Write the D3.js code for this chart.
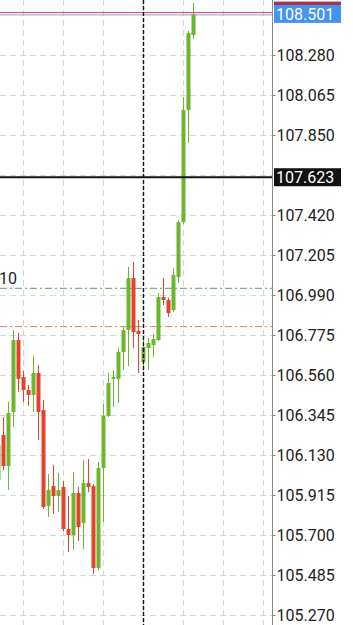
<!DOCTYPE html>
<html>
<head>
<meta charset="utf-8">
<script src="https://cdn.jsdelivr.net/npm/d3@7"></script>
<style>
  body { margin: 0; background: #fff; }
  svg { display: block; font-family: Roboto, "Noto Sans", sans-serif; }
</style>
</head>
<body>
<div id="chart"></div>
<script>
// chart size
var svgWidth = 353;
var svgHeight = 625;
var axisX = 272;

// candle data (index -1 is the partly hidden first bar)
var bars = d3.range(-1, 39);
var opens  = [105.996, 106.238, 106.071, 106.361, 106.748, 106.549, 106.479, 106.453, 106.571, 106.372,
              105.856, 105.963, 105.910, 105.958, 105.732, 105.700, 105.926, 105.764, 105.979, 105.963,
              105.523, 106.060, 106.340, 106.539, 106.539, 106.684, 106.802, 107.081, 106.797, 106.630,
              106.705, 106.721, 106.748, 106.979, 106.963, 106.909, 107.087, 107.382, 107.984, 108.388];
var highs  = [106.264, 106.334, 106.415, 106.802, 106.786, 106.582, 106.506, 106.662, 106.614, 106.426,
              106.028, 106.076, 106.033, 105.990, 105.910, 106.039, 105.958, 106.103, 106.109, 105.974,
              106.092, 106.404, 106.571, 106.587, 106.705, 106.818, 107.141, 107.167, 106.856, 106.759,
              106.759, 106.780, 107.001, 107.081, 106.974, 107.135, 107.393, 108.054, 108.409, 108.560];
var lows   = [105.931, 106.049, 105.942, 106.281, 106.469, 106.415, 106.393, 106.361, 106.211, 105.840,
              105.797, 105.813, 105.824, 105.721, 105.609, 105.619, 105.668, 105.625, 105.931, 105.490,
              105.512, 105.770, 106.334, 106.388, 106.410, 106.587, 106.608, 106.705, 106.571, 106.598,
              106.587, 106.657, 106.743, 106.936, 106.872, 106.899, 107.055, 107.372, 107.807, 108.366];
var closes = [106.184, 106.071, 106.356, 106.748, 106.539, 106.479, 106.453, 106.571, 106.361, 105.850,
              105.942, 105.910, 105.942, 105.732, 105.700, 105.926, 105.743, 105.979, 105.958, 105.523,
              106.060, 106.340, 106.517, 106.549, 106.684, 106.802, 107.081, 106.791, 106.780, 106.711,
              106.732, 106.754, 106.979, 106.963, 106.893, 107.098, 107.382, 107.984, 108.398, 108.501];

// price grid levels (107.635 sits under the 107.623 tag)
var priceTicks = [108.280, 108.065, 107.850, 107.635, 107.420, 107.205, 106.990, 106.775,
                  106.560, 106.345, 106.130, 105.915, 105.700, 105.485, 105.270];
// time grid every 8 bars
var timeGrid = [4, 12, 20, 28, 36, 44, 52];
var crossBar = 28;

// price lines
var bidPrice = 108.501;
var askPrice = 108.508;
var markPrice = 107.623;
var greenLevel = 107.026;
var orangeLevel = 106.820;

var candles = bars.map(function(b, i) {
  return { i: b, o: opens[i], h: highs[i], l: lows[i], c: closes[i] };
});

var svg = d3.select("#chart")
  .append("svg")
  .attr("width", svgWidth)
  .attr("height", svgHeight);

// scales
var xScale = d3.scaleLinear()
  .domain([-1, 38])
  .range([-1.7, 193.3]);

var yScale = d3.scaleLinear()
  .domain([105.270, 108.280])
  .range([615, 55]);

var plot = svg.append("g");

// dashed grid
plot.selectAll(".hgrid")
  .data(priceTicks)
  .enter()
  .append("line")
  .attr("x1", 0)
  .attr("x2", axisX)
  .attr("y1", d => Math.round(yScale(d)) + 0.5)
  .attr("y2", d => Math.round(yScale(d)) + 0.5)
  .attr("stroke", "#d6d6d6")
  .attr("stroke-dasharray", "6,4");

plot.selectAll(".vgrid")
  .data(timeGrid)
  .enter()
  .append("line")
  .attr("x1", d => Math.round(xScale(d)) + 0.5)
  .attr("x2", d => Math.round(xScale(d)) + 0.5)
  .attr("y1", 0)
  .attr("y2", svgHeight)
  .attr("stroke", "#d6d6d6")
  .attr("stroke-dasharray", "6,4");

// level lines
plot.append("line")
  .attr("x1", 0).attr("x2", axisX)
  .attr("y1", yScale(greenLevel)).attr("y2", yScale(greenLevel))
  .attr("stroke", "#5a9e5a")
  .attr("stroke-dasharray", "7,3,2,3");

plot.append("line")
  .attr("x1", 0).attr("x2", axisX)
  .attr("y1", yScale(orangeLevel)).attr("y2", yScale(orangeLevel))
  .attr("stroke", "#cf8a5a")
  .attr("stroke-dasharray", "7,3,2,3");

plot.append("text")
  .attr("x", -1)
  .attr("y", yScale(greenLevel) - 10)
  .attr("dy", "0.35em")
  .style("font-size", "16px")
  .style("fill", "#222")
  .text("10");

// candles
var green = "#6cb52d";
var red = "#e2442b";

plot.selectAll(".wick")
  .data(candles)
  .enter()
  .append("line")
  .attr("x1", d => Math.round(xScale(d.i)) + 0.5)
  .attr("x2", d => Math.round(xScale(d.i)) + 0.5)
  .attr("y1", d => yScale(d.h))
  .attr("y2", d => yScale(d.l))
  .attr("stroke", d => d.c >= d.o ? green : red)
  .attr("stroke-width", 1);

plot.selectAll(".body")
  .data(candles)
  .enter()
  .append("rect")
  .attr("x", d => Math.round(xScale(d.i)) - 1.5)
  .attr("width", 4)
  .attr("y", d => yScale(Math.max(d.o, d.c)))
  .attr("height", d => Math.max(1.5, Math.abs(yScale(d.o) - yScale(d.c))))
  .attr("fill", d => d.c >= d.o ? green : red);

// mark line
plot.append("line")
  .attr("x1", 0).attr("x2", axisX)
  .attr("y1", yScale(markPrice)).attr("y2", yScale(markPrice))
  .attr("stroke", "#111")
  .attr("stroke-width", 2);

// ask / bid lines
plot.append("line")
  .attr("x1", 0).attr("x2", axisX)
  .attr("y1", yScale(askPrice)).attr("y2", yScale(askPrice))
  .attr("stroke", "#e0405a")
  .attr("stroke-width", 1);

plot.append("line")
  .attr("x1", 0).attr("x2", axisX)
  .attr("y1", yScale(bidPrice) + 1).attr("y2", yScale(bidPrice) + 1)
  .attr("stroke", "#8aa4cc")
  .attr("stroke-width", 1);

// crosshair
plot.append("line")
  .attr("x1", Math.round(xScale(crossBar)) + 0.5)
  .attr("x2", Math.round(xScale(crossBar)) + 0.5)
  .attr("y1", 0)
  .attr("y2", svgHeight)
  .attr("stroke", "#111")
  .attr("stroke-width", 1.4)
  .attr("stroke-dasharray", "4,2");

// right price axis (label hidden under the mark tag is left out)
var rightAxis = d3.axisRight(yScale)
  .tickValues(priceTicks.filter(d => Math.abs(d - markPrice) > 0.05))
  .tickFormat(d3.format(".3f"))
  .tickSize(3)
  .tickPadding(1);

var axisG = svg.append("g")
  .attr("transform", `translate(${axisX + 0.5}, 0)`)
  .call(rightAxis);

axisG.select(".domain").remove();
axisG.selectAll(".tick line").attr("stroke", "#888");
axisG.selectAll(".tick text")
  .style("font-size", "16px")
  .style("font-family", "Roboto, sans-serif")
  .style("fill", "#222");

svg.append("line")
  .attr("x1", axisX + 0.5).attr("x2", axisX + 0.5)
  .attr("y1", 0).attr("y2", svgHeight)
  .attr("stroke", "#888");

// price tags
function priceTag(price, fill, label, dy) {
  var yc = yScale(price) + dy;
  svg.append("rect")
    .attr("x", axisX + 2)
    .attr("y", yc - 9)
    .attr("width", 67)
    .attr("height", 18)
    .attr("fill", fill);
  if (label) {
    svg.append("text")
      .attr("x", axisX + 4)
      .attr("y", yc)
      .attr("dy", "0.36em")
      .style("font-size", "16px")
      .style("fill", "#fff")
      .text(label);
  }
}

priceTag(askPrice, "#a8324a", null, -2);
priceTag(bidPrice, "#4593f0", d3.format(".3f")(bidPrice), 0);
priceTag(markPrice, "#111", d3.format(".3f")(markPrice), 0);
</script>
</body>
</html>
